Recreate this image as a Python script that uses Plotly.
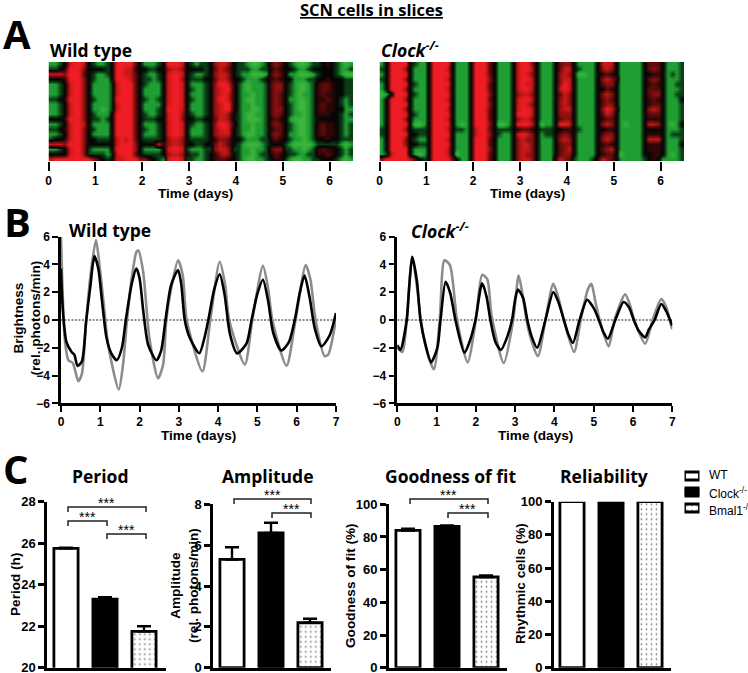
import plotly.graph_objects as go

W, H = 748, 673

# heatmap rows: one char per 0.1 day, 0 light green .. 3 black .. 8 bright red
DAYS = [i * 0.1 + 0.05 for i in range(65)]
HEAT_WT = [
    "1123 78873 21123 888853 11123 88873 21223 67763 2210012 5653 210012 23432 101",
    "2234 88863 33323 887743 32233 67763 33323 57653 2221122 4543 321123 33332 112",
    "7776 88853 21123 887753 21123 78873 21123 67763 2110001 5653 110001 23332 100",
    "3334 88863 21113 888753 22123 78863 22233 57763 3211123 4543 311122 33433 322",
    "1123 78863 11112 788853 21113 78873 11123 68874 2101112 5663 210012 45543 322",
    "1123 78863 11112 788853 11113 78873 21123 67884 2101112 5663 210012 45543 322",
    "1123 78863 11112 788853 11113 78873 11123 67874 2110112 5653 210112 45443 322",
    "2234 88863 21112 888853 21123 78873 21123 68874 2100112 5653 110012 44543 212",
    "1123 78863 11112 788853 11113 78873 11123 67884 2110112 5653 210012 45443 212",
    "1123 78863 11012 788853 11123 88873 11123 67884 2110012 5663 210012 45443 311",
    "1123 78863 21113 888853 21123 78863 21123 67763 2100112 5653 211012 44433 212",
    "3334 88863 22123 888853 22233 78863 32233 57763 2100012 4543 100012 33333 211",
    "1123 78873 11113 888853 11123 78873 21123 68874 2110112 5653 210012 45443 212",
    "2234 78863 21113 888853 21123 78873 11123 67873 2110112 4553 210012 45443 212",
    "1123 78863 11113 888853 11123 78873 11123 67773 2100112 5653 110012 45443 212",
    "2334 78863 32223 787853 22223 67763 22223 46653 3211122 4543 211012 33433 222",
    "7776 88863 33333 788863 33374 67763 32233 57653 2100012 3332 100001 22222 101",
    "1123 78862 11113 888863 11113 78872 11122 67762 2110112 5662 211012 45443 212",
    "3333 78862 22212 788853 22223 67763 22123 46763 2110122 4543 221122 44543 212",
    "7888 88888 65323 778886 64321 78872 21123 45543 2100112 3442 100112 23332 101",
]
HEAT_CLOCK = [
    "13 88883 2113 88883 1113 88853 1113 78863 1113 5663 11113 7773 111113 5553 1112",
    "23 88863 1113 88873 1113 88853 1113 78873 1113 5773 21113 6763 111113 5653 1112",
    "13 88883 1113 88883 1113 88853 1113 78763 1113 6763 00113 4543 111113 3443 1212",
    "23 88863 1113 88873 1113 88863 1113 78873 1113 6773 11113 6764 111113 5653 1112",
    "13 88883 2113 88883 1113 88853 1113 78773 1113 6873 11113 5663 111113 4543 1122",
    "13 88863 1113 88873 1113 88853 1113 78873 1113 7873 11113 3543 111113 5553 1112",
    "01 38883 2113 88883 1113 88863 1113 67763 1113 5763 11113 6763 111113 5663 1122",
    "13 88863 1113 88873 1113 88853 1113 78873 1113 6763 11113 5653 111113 4543 1113",
    "13 88883 1113 88883 1113 88863 1113 78763 1113 6763 11113 5663 111113 4553 1112",
    "13 88863 1113 88873 1113 88853 1113 78873 1113 6773 11113 6874 111113 6763 1112",
    "13 88883 2113 88883 1113 88853 1113 88873 1113 6663 11113 5763 111113 5553 1112",
    "13 88863 1113 88873 1113 88853 1113 67763 1113 5663 11113 4553 111113 4443 1112",
    "13 88883 0013 88883 1013 88863 0013 88873 0113 8873 11113 6763 101113 7763 1013",
    "23 88863 2223 88873 2213 78853 2223 45543 2223 3443 21113 3443 111113 3333 1112",
    "23 88883 3223 88883 1113 78863 2113 78763 1223 5653 11113 5663 111113 4443 1222",
    "13 88863 2113 88873 1113 88853 1113 67663 1113 6763 11113 6763 111113 7773 1112",
    "13 88863 3223 88883 1113 88853 1113 67763 1113 5663 11113 4543 111113 4443 1113",
    "13 88883 1113 88873 1113 88863 1113 67763 1113 5673 11113 5673 111113 4443 1112",
    "12 78883 1013 88873 0113 88853 1113 67663 1113 5663 11113 4553 011113 3443 1012",
    "68 88887 5323 88885 3113 88853 1113 67763 1114 7652 11124 7653 111112 3431 1112",
]
HEAT_COLORS = ["#3db53a", "#1f9e33", "#0a3d14", "#050505", "#2e0606",
               "#5a0c0c", "#8c1010", "#c81818", "#ee1c25"]

# brightness traces
WT_BLACK_T = [0, .03, .08, .14, .27, .34, .42, .53, .64, .75, .85, .95, 1.05, 1.16, 1.28, 1.42, 1.55, 1.65, 1.8, 1.92,
              2.0, 2.1, 2.22, 2.43, 2.55, 2.66, 2.8, 2.98, 3.06, 3.15, 3.28, 3.52, 3.65, 3.75, 3.9, 4.04, 4.16, 4.3,
              4.48, 4.72, 4.85, 5.0, 5.14, 5.27, 5.4, 5.61, 5.8, 5.95, 6.08, 6.2, 6.33, 6.46, 6.63, 6.84, 7]
WT_BLACK_V = [3.7, 1.5, -.4, -1.6, -2.3, -2.5, -3.3, -3.0, -.1, 2.5, 4.6, 3.7, 1.2, -1.3, -2.4, -2.9, -2.0, 0, 2.6, 3.7,
              3.0, .5, -1.8, -2.9, -2.2, 0, 2.5, 3.6, 2.6, 0, -1.3, -2.4, -1.3, 0, 2.2, 3.3, 1.9, -1.0,
              -2.4, -1.7, 0, 1.9, 2.9, 1.4, -.9, -2.2, -1.6, 0, 2.0, 3.2, 1.6, -.6, -1.9, -1.1, .5]
WT_GREY_T = [0, .03, .1, .19, .3, .44, .53, .64, .75, .89, .99, 1.1, 1.2, 1.47, 1.58, 1.68, 1.8, 1.92, 1.97, 2.09, 2.25,
             2.47, 2.6, 2.68, 2.8, 2.98, 3.1, 3.2, 3.6, 3.8, 4.04, 4.18, 4.28, 4.68, 4.87, 5.14, 5.27, 5.38, 5.74, 5.97,
             6.23, 6.35, 6.48, 6.71, 6.8, 7]
WT_GREY_V = [6, 3, -1.5, -2.9, -3.1, -4.4, -3.9, -.1, 3.2, 5.75, 3.7, .8, -1.8, -5, -3.2, 0, 3.0, 4.9, 5, 3.5, -1.3,
             -4.2, -3.2, 0, 2.2, 4.3, 3.2, 0, -3.7, 0, 4.2, 2.5, 0, -3.2, 0, 3.9, 2.3, 0, -3.3, 0,
             3.95, 2.9, 0, -2.6, -2.5, .1]
KO_BLACK_T = [0, .08, .24, .3, .38, .5, .59, .72, .86, 1.02, 1.1, 1.23, 1.35, 1.48, 1.71, 1.86, 1.99, 2.16, 2.27, 2.37, 2.5,
              2.64, 2.8, 2.92, 3.0, 3.07, 3.2, 3.31, 3.42, 3.56, 3.77, 3.97, 4.1, 4.24, 4.35, 4.47, 4.64, 4.83, 5.0,
              5.13, 5.25, 5.36, 5.55, 5.76, 5.9, 6.02, 6.15, 6.31, 6.4, 6.55, 6.72, 6.85, 7]
KO_BLACK_V = [-1.8, -2.15, 0, 2.3, 4.55, 2.8, 0, -1.8, -3.05, -2, 0, 2.75, 1.9, 0, -2.35, -1.4, 0, 2.65, 1.7, 0, -1.6,
              -2.15, -1.2, 0, 1.5, 2.2, 1.6, 0, -1.2, -2, 0, 2, 1.3, 0, -1, -1.65, 0, 1.45, .85,
              0, -.9, -1.35, 0, 1.3, .9, 0, -.8, -1.25, -.7, 0, 1.15, .6, -.4]
KO_GREY_T = [0, .13, .24, .38, .5, .6, .72, .93, 1.08, 1.2, 1.34, 1.52, 1.79, 2.0, 2.16, 2.29, 2.4, 2.71, 2.95, 3.09,
             3.2, 3.33, 3.58, 3.77, 3.97, 4.1, 4.24, 4.5, 4.67, 4.85, 4.94, 5.05, 5.17, 5.38, 5.53, 5.8, 5.92, 6.03,
             6.31, 6.5, 6.72, 6.85, 6.97, 7]
KO_GREY_V = [-2, -2.3, 0, 4.55, 2.4, 0, -1.9, -3.55, 0, 4.3, 3.95, 0, -3.05, 0, 3.25, 2.95, .3, -3.1, 0, 3.2,
             1.6, -.6, -2.6, 0, 2.6, 1.6, 0, -2.3, 0, 2.2, 2.6, 1.2, -.2, -1.9, 0, 1.85, 1.1, 0,
             -1.7, 0, 1.5, .9, -.4, -.65]

# bar panels
GENOTYPES = ["WT", "Clock", "Bmal1"]
PERIOD = [25.75, 23.3, 21.75]
PERIOD_ERR = [0.03, 0.1, 0.25]
AMPLITUDE = [5.3, 6.6, 2.2]
AMPLITUDE_ERR = [0.6, 0.5, 0.2]
FIT = [84, 86.5, 55.5]
FIT_ERR = [1, 0.5, 1]
RHYTHMIC = [100, 100, 100]

TICK_FONT = dict(family="Liberation Sans", size=12, color="black", weight="bold")
BAR_TICK_FONT = dict(family="Liberation Sans", size=13, color="black", weight="bold")
LABEL_FONT = "Liberation Sans"
HEAD_FONT = "Open Sans"

fig = go.Figure()
layout = {}
notes = []
shapes = []


def fx(x):
    return x / W


def fy(y):
    return 1 - y / H


def note(x, y, text, size=13.6, family=LABEL_FONT, bold=True, anchor="center", angle=0):
    notes.append(dict(x=fx(x), y=fy(y), xref="paper", yref="paper", text=text, showarrow=False,
                      xanchor=anchor, yanchor="middle", textangle=angle,
                      font=dict(family=family, size=size, color="black", weight="bold" if bold else "normal")))


def axes(n, x0, x1, y0, y1, xaxis, yaxis):
    # place axis pair n on a pixel box
    layout[f"xaxis{n}"] = dict(domain=[fx(x0), fx(x1)], anchor=f"y{n}", **xaxis)
    layout[f"yaxis{n}"] = dict(domain=[fy(y1), fy(y0)], anchor=f"x{n}", **yaxis)
    return f"x{n}", f"y{n}"


def heat_panel(n, x0, x1, rows):
    z = [[int(c) for c in r.replace(" ", "")] for r in rows]
    assert all(len(r) == len(DAYS) for r in z)
    xa, ya = axes(n, x0, x1, 62, 161,
                  dict(range=[0, 6.5], tickvals=list(range(7)), ticks="outside", ticklen=9, tickwidth=2.2,
                       tickcolor="black", showline=False, showgrid=False, zeroline=False, tickfont=TICK_FONT),
                  dict(range=[19.5, -0.5], visible=False))
    scale = [[i / 8, c] for i, c in enumerate(HEAT_COLORS)]
    fig.add_trace(go.Heatmap(z=z, x=DAYS, y=list(range(len(rows))), colorscale=scale, zmin=0, zmax=8,
                             zsmooth="best", showscale=False, xaxis=xa, yaxis=ya))


def line_panel(n, x0, black_t, black_v, grey_t, grey_v):
    assert len(black_t) == len(black_v) and len(grey_t) == len(grey_v)
    xa, ya = axes(n, x0, x0 + 275, 236.7, 403.3,
                  dict(range=[0, 7], tickvals=list(range(8)), ticks="outside", ticklen=6, tickwidth=2.2,
                       tickcolor="black", showline=True, linecolor="black", linewidth=2.5, showgrid=False,
                       zeroline=False, tickfont=TICK_FONT),
                  dict(range=[-6, 6], tickvals=[-6, -4, -2, 0, 2, 4, 6], ticks="outside", ticklen=6, tickwidth=2.2,
                       tickcolor="black", showline=True, linecolor="black", linewidth=2.5, showgrid=False,
                       zeroline=False, tickfont=TICK_FONT))
    fig.add_trace(go.Scatter(x=[0, 7], y=[0, 0], mode="lines", xaxis=xa, yaxis=ya,
                             line=dict(color="black", width=0.9, dash="2px,1.5px")))
    fig.add_trace(go.Scatter(x=grey_t, y=grey_v, mode="lines", xaxis=xa, yaxis=ya,
                             line=dict(color="#8c8c8c", width=2.6, shape="spline", smoothing=0.7)))
    fig.add_trace(go.Scatter(x=black_t, y=black_v, mode="lines", xaxis=xa, yaxis=ya,
                             line=dict(color="black", width=2.6, shape="spline", smoothing=0.7)))


def bar_panel(n, x0, x1, first, top, yr, ticks, values, errs):
    # first = pixel centre of the first bar, bars sit 39 px apart
    lo = (x0 - first) / 39
    hi = (x1 - first) / 39
    xa, ya = axes(n, x0, x1, top, 667.7,
                  dict(range=[lo, hi], showticklabels=False, ticks="", showline=True, linecolor="black",
                       linewidth=3, showgrid=False, zeroline=False),
                  dict(range=yr, tickvals=ticks, ticks="outside", ticklen=6, tickwidth=2.5, tickcolor="black",
                       showline=True, linecolor="black", linewidth=3, showgrid=False, zeroline=False,
                       tickfont=BAR_TICK_FONT, ticklabeloverflow="allow"))
    fills = ["white", "black", "white"]
    patterns = ["", "", "."]
    for i in range(3):
        err = None
        if errs:
            err = dict(type="data", symmetric=False, array=[errs[i]], arrayminus=[0], color="black",
                       thickness=2.4, width=7)
        fig.add_trace(go.Bar(x=[i], y=[values[i]], width=0.62, xaxis=xa, yaxis=ya, error_y=err,
                             marker=dict(color=fills[i], line=dict(color="black", width=2.8),
                                         pattern=dict(shape=patterns[i], size=5, solidity=0.1,
                                                      fgcolor="black", bgcolor=fills[i]))))


def bracket(x0, x1, y, drop=5):
    shapes.append(dict(type="path", xref="paper", yref="paper",
                       path=f"M {fx(x0)} {fy(y + drop)} L {fx(x0)} {fy(y)} L {fx(x1)} {fy(y)} L {fx(x1)} {fy(y + drop)}",
                       line=dict(color="#222222", width=1.5)))
    note((x0 + x1) / 2, y - 4, "***", size=14, bold=False)


heat_panel(1, 48.5, 353, HEAT_WT)
heat_panel(2, 379.5, 684, HEAT_CLOCK)
line_panel(3, 61, WT_BLACK_T, WT_BLACK_V, WT_GREY_T, WT_GREY_V)
line_panel(4, 397.3, KO_BLACK_T, KO_BLACK_V, KO_GREY_T, KO_GREY_V)
bar_panel(5, 47.3, 165.7, 66, 501.7, [20, 28], [20, 22, 24, 26, 28], PERIOD, PERIOD_ERR)
bar_panel(6, 213.3, 330.7, 232, 504.3, [0, 8], [0, 2, 4, 6, 8], AMPLITUDE, AMPLITUDE_ERR)
bar_panel(7, 389, 506.7, 408, 504.3, [0, 100], [0, 20, 40, 60, 80, 100], FIT, FIT_ERR)
bar_panel(8, 554, 670.7, 572, 501.7, [0, 100], [0, 20, 40, 60, 80, 100], RHYTHMIC, None)

# legend swatches, drawn as small bars on a hidden axis pair
leg_x, leg_y = axes(9, 684.5, 699.5, 468, 516, dict(range=[0, 1], visible=False),
                    dict(range=[2.5, -0.5], visible=False))
for i, (fill, shp) in enumerate([("white", ""), ("black", ""), ("white", ".")]):
    fig.add_trace(go.Bar(y=[i], x=[1], orientation="h", width=0.5, xaxis=leg_x, yaxis=leg_y,
                         marker=dict(color=fill, line=dict(color="black", width=2.8),
                                     pattern=dict(shape=shp, size=5, solidity=0.1, fgcolor="black", bgcolor=fill))))

note(371, 10, "<u>SCN cells in slices</u>", size=16.5, family=HEAD_FONT)
note(1, 33, "A", size=40, family=HEAD_FONT, anchor="left")
note(2, 222, "B", size=40, family=HEAD_FONT, anchor="left")
note(1, 468, "C", size=40, family=HEAD_FONT, anchor="left")
note(48, 50, "Wild type", size=17.5, family=HEAD_FONT, anchor="left")
note(379, 50, "<i>Clock<sup>-/-</sup></i>", size=17.5, family=HEAD_FONT, anchor="left")
note(67, 230, "Wild type", size=17.5, family=HEAD_FONT, anchor="left")
note(409, 230, "<i>Clock<sup>-/-</sup></i>", size=17.5, family=HEAD_FONT, anchor="left")
note(195, 194, "Time (days)")
note(527, 194, "Time (days)")
note(198, 435, "Time (days)")
note(535, 435, "Time (days)")
note(26.5, 318, "Brightness<br>(rel. photons/min)", angle=-90)
note(100, 476, "Period", size=17.5, family=HEAD_FONT)
note(268, 476, "Amplitude", size=17.5, family=HEAD_FONT)
note(450, 476, "Goodness of fit", size=17.5, family=HEAD_FONT)
note(604, 476, "Reliability", size=17.5, family=HEAD_FONT)
note(15, 585, "Period (h)", angle=-90)
note(184, 586, "Amplitude<br>(rel. photons/min)", angle=-90)
note(350, 586, "Goodness of fit (%)", angle=-90)
note(520, 584, "Rhythmic cells (%)", angle=-90)
note(707, 475, "WT", size=12, bold=False, anchor="left")
note(707, 493, "Clock<sup>-/-</sup>", size=12, bold=False, anchor="left")
note(707, 510, "Bmal1<sup>-/-</sup>", size=12, bold=False, anchor="left")

bracket(68, 146, 507)
bracket(68, 107, 521)
bracket(107, 146, 534)
bracket(234, 311, 499)
bracket(272, 311, 513)
bracket(410, 488, 499)
bracket(448, 488, 513)

fig.update_layout(
    width=W, height=H, margin=dict(l=0, r=0, t=0, b=0, autoexpand=False),
    paper_bgcolor="white", plot_bgcolor="white",
    showlegend=False, annotations=notes, shapes=shapes,
    **layout,
)

# the page's default body margin would push the figure off the window
fig.write_html("out.html", config=dict(displayModeBar=False),
               post_script="document.body.style.margin='0';")
